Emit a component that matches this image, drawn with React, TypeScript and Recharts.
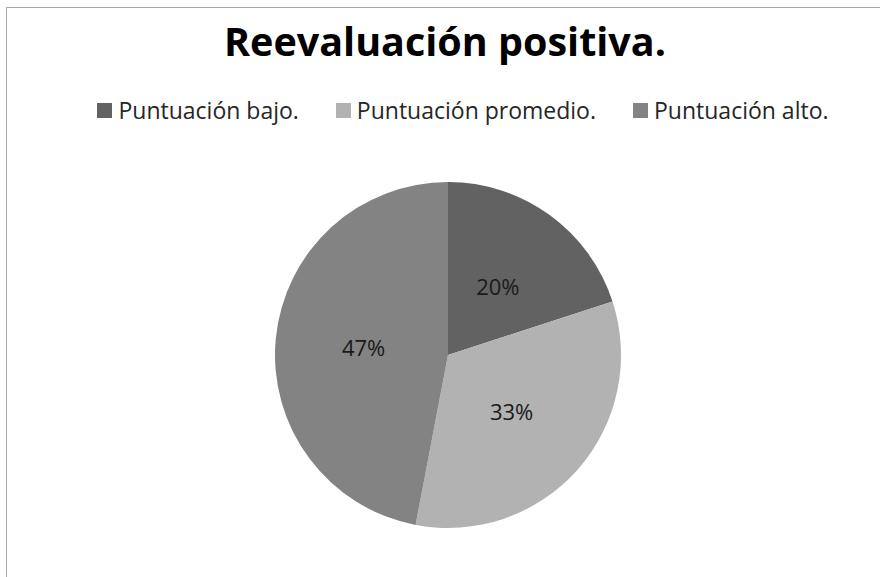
import React from "react";
import { PieChart, Pie, Cell, Legend } from "recharts";

const title = "Reevaluación positiva.";
const categories = ["Puntuación bajo.", "Puntuación promedio.", "Puntuación alto."];
const values = [20, 33, 47];
const colors = ["#626262", "#b2b2b2", "#838383"];

const data = categories.map((name, i) => ({ name, value: values[i] }));

const RADIAN = Math.PI / 180;
const FONT = "'Open Sans', 'Noto Sans', sans-serif";
const LEGEND_H = 30;

function SliceLabel(props: any) {
  const { cx, cy, midAngle, outerRadius, value } = props;
  const r = outerRadius * 0.49;
  const x = cx + r * Math.cos(-midAngle * RADIAN);
  const y = cy + r * Math.sin(-midAngle * RADIAN);
  return (
    <text
      x={x}
      y={y}
      fill="#1a1a1a"
      fontSize={22}
      fontFamily={FONT}
      textAnchor="middle"
      dominantBaseline="central"
    >
      {value}%
    </text>
  );
}

function LegendRow({ payload }: any) {
  // keep the series order instead of the legend's alphabetical sort
  const items = [...(payload || [])].sort(
    (a: any, b: any) => categories.indexOf(a.value) - categories.indexOf(b.value)
  );
  return (
    <div
      style={{
        display: "flex",
        justifyContent: "center",
        gap: 37,
        fontFamily: FONT,
        fontSize: 23,
        lineHeight: `${LEGEND_H}px`,
        height: LEGEND_H,
        color: "#262626",
        paddingLeft: 46,
        whiteSpace: "nowrap",
      }}
    >
      {items.map((entry: any) => (
        <div key={entry.value} style={{ display: "flex", alignItems: "center" }}>
          <span
            style={{
              width: 15,
              height: 15,
              background: entry.color,
              display: "inline-block",
              marginRight: 6,
            }}
          />
          <span>{entry.value}</span>
        </div>
      ))}
    </div>
  );
}

export default function App() {
  return (
    <div
      style={{
        position: "absolute",
        left: 0,
        top: 0,
        width: 880,
        height: 577,
        overflow: "hidden",
        background: "#fff",
      }}
    >
      <div
        style={{
          position: "absolute",
          left: 6,
          top: 7,
          width: 920,
          height: 620,
          border: "1px solid #a8a8a8",
        }}
      />
      <div
        style={{
          position: "absolute",
          left: 0,
          top: 15,
          width: 890,
          textAlign: "center",
          fontFamily: FONT,
          fontWeight: 700,
          fontSize: 39.5,
          color: "#000",
          lineHeight: "52px",
        }}
      >
        {title}
      </div>
      <div style={{ position: "absolute", left: 0, top: 0 }}>
        <PieChart width={880} height={577} margin={{ top: 0, right: 0, bottom: 0, left: 0 }}>
          <Legend
            verticalAlign="top"
            content={<LegendRow />}
            wrapperStyle={{ top: 95, left: 0, width: 880 }}
          />
          <Pie
            data={data}
            dataKey="value"
            nameKey="name"
            cx={448}
            cy={355 - LEGEND_H}
            outerRadius={173}
            startAngle={90}
            endAngle={-270}
            stroke="none"
            label={SliceLabel}
            labelLine={false}
            isAnimationActive={false}
          >
            {data.map((d, i) => (
              <Cell key={d.name} fill={colors[i]} />
            ))}
          </Pie>
        </PieChart>
      </div>
    </div>
  );
}
